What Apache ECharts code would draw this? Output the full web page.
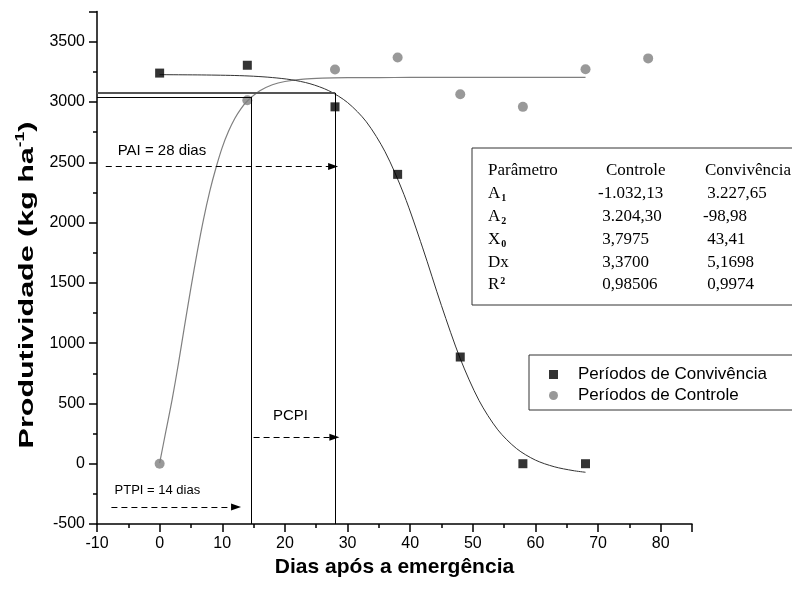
<!DOCTYPE html>
<html>
<head>
<meta charset="utf-8">
<script src="https://cdn.jsdelivr.net/npm/echarts@6/dist/echarts.min.js"></script>
<style>
html,body{margin:0;padding:0;background:#fff;}
#chart{width:792px;height:589px;}
</style>
</head>
<body>
<div id="chart"></div>
<script>
// ---- data ----
var daysObs = [0, 14, 28, 38, 48, 58, 68, 78];
var convivenciaObs = [3240, 3305, 2960, 2400, 885, 0, 0];          // squares, x = daysObs[0..6]
var controleObs = [0, 3015, 3270, 3370, 3065, 2960, 3272, 3362];    // circles

// fitted curves
var convCurveX = [0, 3, 6, 9, 12, 15, 18, 21, 24, 27, 30, 33, 36, 39, 42, 45, 48, 51, 54, 57, 60, 63, 66, 68];
var convCurveY = [3227, 3226, 3225, 3223, 3220, 3214, 3203, 3185, 3152, 3094, 2996, 2836, 2587, 2234, 1790, 1311, 871, 524, 281, 125, 30, -25, -57, -71];
var ctrlCurveX = [0, 1, 2, 3, 4, 5, 6, 7, 8, 9, 10, 11, 12, 13, 14, 16, 18, 20, 23, 26, 30, 35, 40, 50, 60, 68];
var ctrlCurveY = [5, 270, 534, 830, 1150, 1460, 1755, 2025, 2259, 2455, 2624, 2757, 2863, 2945, 3008, 3093, 3143, 3170, 3190, 3198, 3202, 3203, 3204, 3204, 3204, 3204];

// reference lines (critical period)
var ptpiDay = 14.7, paiDay = 28;
var ptpiLevel = 3043, paiLevel = 3076;
// dashed arrows: [xStart, xEnd, y]
var arrowPAI = [-8.6, 27.7, 2465];
var arrowPCPI = [15.0, 27.9, 220];
var arrowPTPI = [-7.7, 12.2, -360];

// parameter table
var paramHeader = ['Parâmetro', 'Controle', 'Convivência'];
var paramNames = ['{m|A}{s|1}', '{m|A}{s|2}', '{m|X}{s|0}', '{m|Dx}', '{m|R}{p|2}'];
var controleParams = ['-1.032,13', ' 3.204,30', ' 3,7975', ' 3,3700', ' 0,98506'];
var convivenciaParams = [' 3.227,65', '-98,98', ' 43,41', ' 5,1698', ' 0,9974'];

var xTicks = [-10, 0, 10, 20, 30, 40, 50, 60, 70, 80];
var yTicks = [-500, 0, 500, 1000, 1500, 2000, 2500, 3000, 3500];

function pairs(xs, ys) { return ys.map(function (v, i) { return [xs[i], v]; }); }

var chart = echarts.init(document.getElementById('chart'), null, {renderer: 'canvas'});
var FONT = 'Liberation Sans, Arial, sans-serif';
var SERIF = 'Liberation Serif, Times New Roman, serif';

var lineBlack = {color: '#000', width: 1, type: 'solid'};

var option = {
  animation: false,
  backgroundColor: '#fff',
  grid: {left: 97, right: 100, top: 11.6, bottom: 65, containLabel: false},
  xAxis: {
    type: 'value', min: -10, max: 85, interval: 10,
    name: 'Dias após a emergência', nameLocation: 'middle', nameGap: 30,
    nameTextStyle: {fontFamily: FONT, fontSize: 21, fontWeight: 'bold', color: '#000'},
    axisLine: {show: true, onZero: false, lineStyle: {color: '#000', width: 1.5}},
    axisTick: {show: true, inside: false, length: 8, lineStyle: {color: '#000', width: 1.5}},
    minorTick: {show: true, splitNumber: 2, length: 4, lineStyle: {color: '#000', width: 1.5}},
    axisLabel: {fontFamily: FONT, fontSize: 16, color: '#000', margin: 12,
      formatter: function (v) { return xTicks.indexOf(v) >= 0 ? String(v) : ''; }},
    splitLine: {show: false}
  },
  yAxis: {
    type: 'value', min: -500, max: 3750, interval: 500,
    axisLine: {show: true, onZero: false, lineStyle: {color: '#000', width: 1.5}},
    axisTick: {show: true, inside: false, length: 8, lineStyle: {color: '#000', width: 1.5}},
    minorTick: {show: true, splitNumber: 2, length: 4, lineStyle: {color: '#000', width: 1.5}},
    axisLabel: {fontFamily: FONT, fontSize: 16, color: '#000', margin: 12,
      formatter: function (v) { return yTicks.indexOf(v) >= 0 ? String(v) : ''; }},
    splitLine: {show: false}
  },
  legend: {
    orient: 'vertical', left: 529, top: 355,
    data: [
      {name: 'Períodos de Convivência', icon: 'rect'},
      {name: 'Períodos de Controle', icon: 'circle'}
    ],
    itemWidth: 9, itemHeight: 9, itemGap: 4,
    padding: [11, 60, 6, 20],
    borderColor: '#333', borderWidth: 1,
    textStyle: {fontFamily: FONT, fontSize: 17, color: '#000', padding: [0, 0, 0, 15]},
    selectedMode: false
  },
  series: [
    {
      name: 'curvaControle', type: 'line', data: pairs(ctrlCurveX, ctrlCurveY),
      showSymbol: false, smooth: 0.3,
      lineStyle: {color: '#7f7f7f', width: 1.2}, silent: true, z: 2
    },
    {
      name: 'curvaConvivencia', type: 'line', data: pairs(convCurveX, convCurveY),
      showSymbol: false, smooth: 0.3,
      lineStyle: {color: '#333', width: 1}, silent: true, z: 2,
      markLine: {
        silent: true, symbol: ['none', 'none'], label: {show: false},
        data: [
          [{coord: [-10, paiLevel], lineStyle: {color: '#555', width: 2, type: 'solid'}}, {coord: [paiDay, paiLevel]}],
          [{coord: [-10, ptpiLevel], lineStyle: lineBlack}, {coord: [ptpiDay, ptpiLevel]}],
          [{coord: [paiDay, -500], lineStyle: lineBlack}, {coord: [paiDay, paiLevel]}],
          [{coord: [ptpiDay, -500], lineStyle: lineBlack}, {coord: [ptpiDay, ptpiLevel]}]
        ]
      }
    },
    {
      name: 'setas', type: 'line', data: [], silent: true,
      markLine: {
        silent: true, symbol: ['none', 'triangle'], symbolSize: [7, 10], label: {show: false},
        lineStyle: {color: '#000', width: 1.2, type: [6, 4]},
        data: [
          [{coord: [arrowPAI[0], arrowPAI[2]]}, {coord: [arrowPAI[1], arrowPAI[2]]}],
          [{coord: [arrowPCPI[0], arrowPCPI[2]]}, {coord: [arrowPCPI[1], arrowPCPI[2]]}],
          [{coord: [arrowPTPI[0], arrowPTPI[2]]}, {coord: [arrowPTPI[1], arrowPTPI[2]]}]
        ]
      }
    },
    {
      name: 'Períodos de Convivência', type: 'scatter', symbol: 'rect', symbolSize: 9,
      data: pairs(daysObs, convivenciaObs), itemStyle: {color: '#000'}, z: 5
    },
    {
      name: 'Períodos de Controle', type: 'scatter', symbol: 'circle', symbolSize: 10,
      data: pairs(daysObs, controleObs), itemStyle: {color: '#808080'}, z: 4
    }
  ]
};
chart.setOption(option);

// annotation texts anchored to data coordinates
function px(x, y) { return chart.convertToPixel({gridIndex: 0}, [x, y]); }
var pPAI = px(-6.7, 2593), pPCPI = px(18.1, 396), pPTPI = px(-7.2, -218);

// parameter table
var tbl = [];
var tx = 472, ty = 148, rowH = 22.8;
var colX = [488, 606, 705];
tbl.push({type: 'rect', shape: {x: tx, y: ty, width: 340, height: 157}, style: {fill: '#fff', stroke: '#333', lineWidth: 1}, z: 10});
paramHeader.forEach(function (h, i) {
  tbl.push({type: 'text', x: colX[i], y: ty + 23, z: 11,
    style: {text: h, font: '17px ' + SERIF, fill: '#000', textVerticalAlign: 'middle'}});
});
var rich = {
  m: {fontFamily: SERIF, fontSize: 17, color: '#000'},
  s: {fontFamily: SERIF, fontSize: 10, fontWeight: 'bold', color: '#000', padding: [10, 0, 0, 1]},
  p: {fontFamily: SERIF, fontSize: 10, fontWeight: 'bold', color: '#000', padding: [0, 0, 8, 1]}
};
paramNames.forEach(function (n, r) {
  var yy = ty + 23 + (r + 1) * rowH;
  tbl.push({type: 'text', x: colX[0], y: yy, z: 11,
    style: {text: n, rich: rich, font: '17px ' + SERIF, fill: '#000', textVerticalAlign: 'middle'}});
  tbl.push({type: 'text', x: colX[1] - 8, y: yy, z: 11,
    style: {text: controleParams[r], font: '17px ' + SERIF, fill: '#000', textVerticalAlign: 'middle'}});
  tbl.push({type: 'text', x: colX[2] - 2, y: yy, z: 11,
    style: {text: convivenciaParams[r], font: '17px ' + SERIF, fill: '#000', textVerticalAlign: 'middle'}});
});

// y-axis title (stretched along its length like the original)
var yTitle = {
  type: 'text', x: 27, y: 285, rotation: Math.PI / 2, scaleX: 1.45, scaleY: 1,
  style: {
    text: '{t|Produtividade (kg ha}{u|-1}{t|)}',
    rich: {
      t: {fontFamily: FONT, fontSize: 21, fontWeight: 'bold', fill: '#000'},
      u: {fontFamily: FONT, fontSize: 12, fontWeight: 'bold', fill: '#000', padding: [0, 0, 12, 0]}
    },
    textAlign: 'center', textVerticalAlign: 'middle'
  }
};

chart.setOption({
  graphic: [
    yTitle,
    {type: 'text', x: pPAI[0], y: pPAI[1], style: {text: 'PAI = 28 dias', font: '15px ' + FONT, fill: '#000', textVerticalAlign: 'middle'}},
    {type: 'text', x: pPCPI[0], y: pPCPI[1], style: {text: 'PCPI', font: '15px ' + FONT, fill: '#000', textVerticalAlign: 'middle'}},
    {type: 'text', x: pPTPI[0], y: pPTPI[1], style: {text: 'PTPI = 14 dias', font: '13px ' + FONT, fill: '#000', textVerticalAlign: 'middle'}}
  ].concat(tbl)
});
</script>
</body>
</html>
